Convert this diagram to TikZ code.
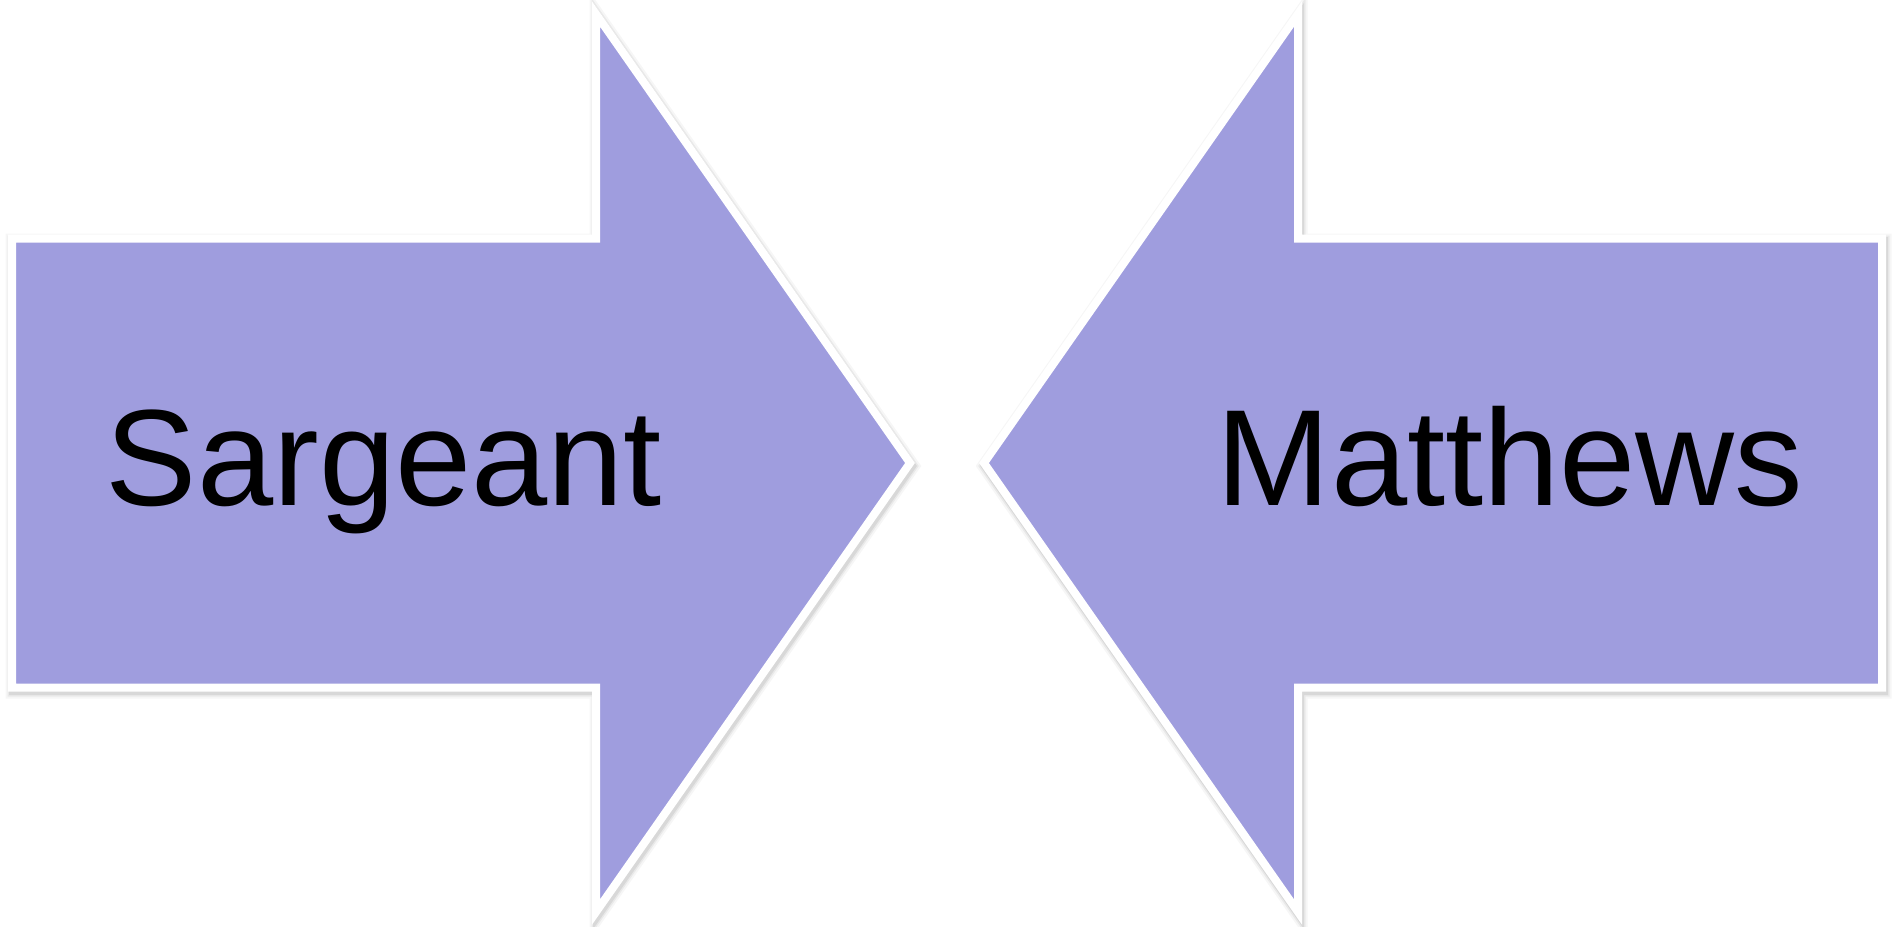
\documentclass[tikz,border=0pt]{standalone}
\usepackage{fontspec}
\setmainfont{Liberation Sans}
\definecolor{arrowfill}{RGB}{159,157,222}
\newcommand\LArrowPath[1]{\path[#1] (12,238.5) -- (596,238.5) -- (596,14) -- (910,463) -- (596,912) -- (596,687.5) -- (12,687.5) -- cycle;}
\newcommand\RArrowPath[1]{\path[#1] (1882,238.5) -- (1298,238.5) -- (1298,14) -- (984,463) -- (1298,912) -- (1298,687.5) -- (1882,687.5) -- cycle;}
\begin{document}
\begin{tikzpicture}[x=1pt,y=-1pt,
  arrowbody/.style={fill=arrowfill, draw=white, line width=8pt, line join=miter},
  shadowline/.style={draw=black, line join=miter},
  wordlabel/.style={font=\fontsize{137}{164}\selectfont, text=black, inner sep=0pt, anchor=base}]
\useasboundingbox[fill=white] (0,0) rectangle (1894,926);
\begin{scope}[shift={(1.5,3)}]
  \foreach \w/\o in {16/0.035, 12/0.05, 9/0.07} {
    \LArrowPath{shadowline, line width=\w pt, draw opacity=\o}
    \RArrowPath{shadowline, line width=\w pt, draw opacity=\o}
  }
\end{scope}
\LArrowPath{arrowbody}
\RArrowPath{arrowbody}
\node[wordlabel] (sargeant) at (384,505) {Sargeant};
\node[wordlabel] (matthews) at (1510,505) {Matthews};
\end{tikzpicture}
\end{document}
